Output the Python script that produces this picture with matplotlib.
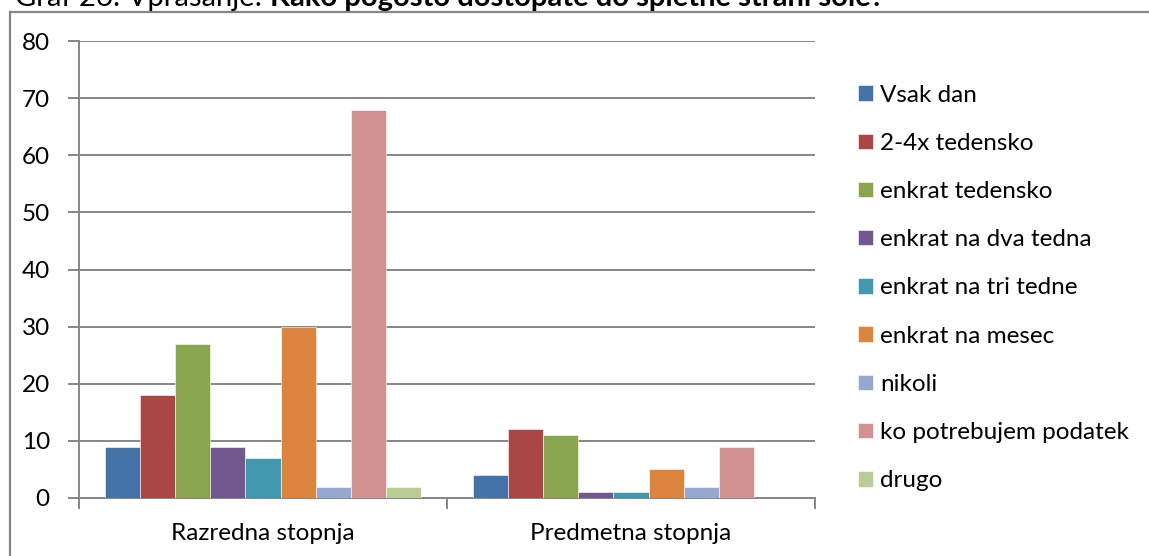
import matplotlib
matplotlib.use('Agg')
import matplotlib.pyplot as plt
from matplotlib.lines import Line2D
import numpy as np

plt.rcParams['font.family'] = ['Lato', 'DejaVu Sans']

categories = ['Razredna stopnja', 'Predmetna stopnja']
answers = ['Vsak dan', '2-4x tedensko', 'enkrat tedensko', 'enkrat na dva tedna',
           'enkrat na tri tedne', 'enkrat na mesec', 'nikoli',
           'ko potrebujem podatek', 'drugo']
razredna = [9, 18, 27, 9, 7, 30, 2, 68, 2]
predmetna = [4, 12, 11, 1, 1, 5, 2, 9, 0]
colors = ['#4572A7', '#AA4643', '#89A54E', '#71588F', '#4198AF',
          '#DB843D', '#93A9CF', '#D19392', '#B9CD96']

W, H = 1149, 556
grey = '#868686'
fs = 17.5

fig = plt.figure(figsize=(W / 100, H / 100), dpi=100)
ax = fig.add_axes([79 / W, (H - 498) / H, (815 - 79) / W, (498 - 41) / H])

values = np.array([razredna, predmetna])
x = np.arange(len(categories))
bw = 0.0954
gap = (1 - bw * len(answers)) / 2
for j, name in enumerate(answers):
    ax.bar(x - 0.5 + gap + bw * (j + 0.5), values[:, j], width=bw,
           color=colors[j], edgecolor='white', linewidth=0.4, label=name, zorder=3)

ax.set_xlim(-0.5, 1.5)
ax.set_ylim(0, 80)
ax.set_yticks(range(0, 81, 10))
ax.yaxis.grid(True, color=grey, linewidth=1.4)
ax.set_axisbelow(True)

ax.set_xticks([-0.5, 0.5, 1.5])
ax.set_xticklabels([])
ax.set_xticks(x, minor=True)
ax.set_xticklabels(categories, minor=True)
ax.tick_params(axis='x', which='major', length=8, width=1.4, color=grey)
ax.tick_params(axis='x', which='minor', length=0, pad=18, labelsize=fs)
ax.tick_params(axis='y', length=8, width=1.4, color=grey, pad=13, labelsize=fs)

for s in ['top', 'right']:
    ax.spines[s].set_visible(False)
for s in ['left', 'bottom']:
    ax.spines[s].set_color(grey)
    ax.spines[s].set_linewidth(1.4)

handles, labels = ax.get_legend_handles_labels()
fig.legend(handles, labels, loc='center left',
           bbox_to_anchor=(858 / W, (H - 288) / H), frameon=False,
           fontsize=fs, handlelength=0.6, handleheight=0.6, handletextpad=0.3,
           labelspacing=1.12, borderpad=0, borderaxespad=0)

# chart frame (top and left edge visible)
fig.add_artist(Line2D([10 / W, 1], [(H - 12) / H, (H - 12) / H], color=grey, linewidth=1.6))
fig.add_artist(Line2D([10 / W, 10 / W], [(H - 12) / H, 0], color=grey, linewidth=1.6))

# caption above, cut off by the crop
t1 = fig.text(15 / W, (H - 6) / H, 'Graf 26: Vprašanje: ', fontsize=21, va='baseline')
r = fig.canvas.get_renderer()
bb = t1.get_window_extent(r)
fig.text(bb.x1 / W, (H - 6) / H, 'Kako pogosto dostopate do spletne strani šole?',
         fontsize=21, fontweight='bold', va='baseline')

fig.savefig('out.png', dpi=100)
